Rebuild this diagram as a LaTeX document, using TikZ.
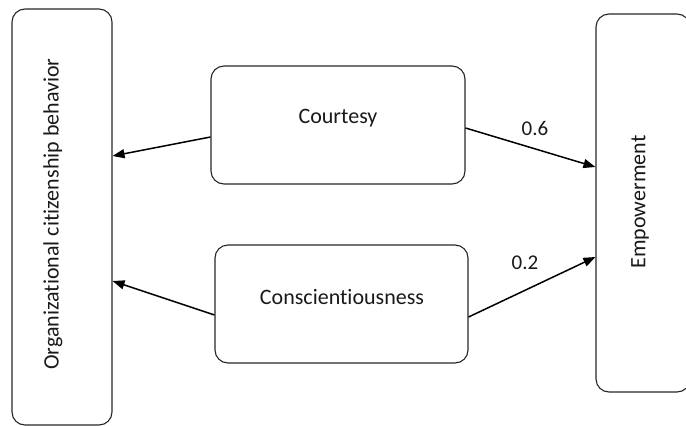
\documentclass[tikz,border=0pt]{standalone}
\usepackage{fontspec}
\setmainfont{Carlito}[Ligatures=NoCommon]
\usetikzlibrary{arrows.meta}
\tikzset{
  box/.style={draw=black!85, line width=1.1pt, rounded corners=13pt, inner sep=0pt},
  lbl/.style={font=\fontsize{22}{26}\selectfont, text=black!90, inner sep=0pt},
  num/.style={font=\fontsize{21}{25}\selectfont, text=black!90, inner sep=0pt},
  conn/.style={draw=black, line width=1.5pt, -{Triangle[length=12pt,width=9pt]}}
}
\begin{document}
\begin{tikzpicture}[x=1pt,y=-1pt]
\useasboundingbox (0,0) rectangle (686,426);
\node[box, minimum width=100pt, minimum height=416pt] (ocb) at (62,217) {};
\node[box, minimum width=94pt, minimum height=378pt] (emp) at (643,203) {};
\node[box, minimum width=254pt, minimum height=118pt] (court) at (338,125) {};
\node[box, minimum width=253pt, minimum height=118pt] (consc) at (341.5,304) {};
\node[lbl, rotate=90] (ocbt) at (53,214) {Organizational citizenship behavior};
\node[lbl, rotate=90] (empt) at (640,202) {Empowerment};
\node[lbl] (courtt) at (338,118) {Courtesy};
\node[lbl] (consct) at (342,297) {Conscientiousness};
\draw[conn] ([yshift=-12pt]court.west) -- ([yshift=61pt]ocb.east);
\draw[conn] ([yshift=-11pt]consc.west) -- ([yshift=-64pt]ocb.east);
\draw[conn] ([yshift=-3pt]court.east) -- ([yshift=36pt]emp.west);
\draw[conn] ([yshift=-13pt]consc.east) -- ([yshift=-54pt]emp.west);
\node[num] (w1) at (535,128) {0.6};
\node[num] (w2) at (525,263) {0.2};
\end{tikzpicture}
\end{document}
